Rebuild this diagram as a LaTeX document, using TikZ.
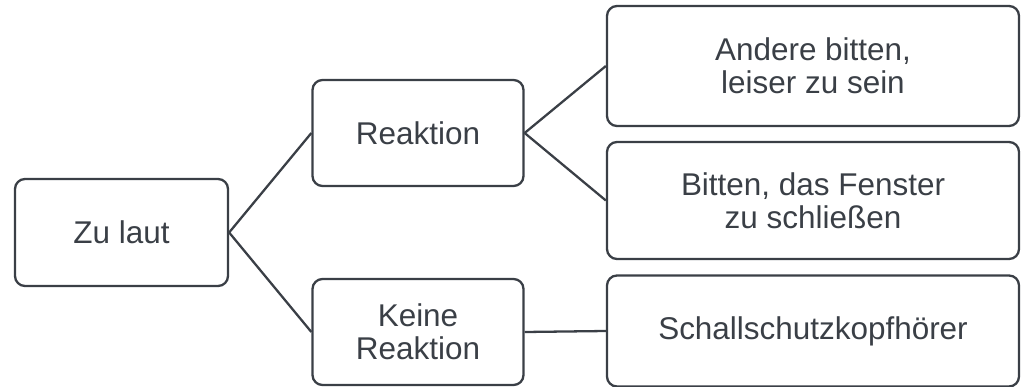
\documentclass[tikz,border=0pt]{standalone}
\usepackage{fontspec}
\setmainfont{Liberation Sans}
\definecolor{ink}{RGB}{58,63,70}

\begin{document}
\begin{tikzpicture}[line width=1.3pt,draw=ink,
  box/.style={draw=ink,rounded corners=0.2cm,align=center,text=ink,inner sep=0pt,
    font=\fontsize{17.9}{18.8}\selectfont},
  link/.style={draw=ink,line width=1.3pt}]
  \useasboundingbox (0,0) rectangle (20.5,-7.74);
  \node[box,minimum width=4.26cm,minimum height=2.14cm] (zu) at (2.43,-4.65) {Zu laut};
  \node[box,minimum width=4.22cm,minimum height=2.12cm] (reak) at (8.36,-2.66) {Reaktion};
  \node[box,minimum width=4.22cm,minimum height=2.12cm] (keine) at (8.36,-6.64) {Keine\\Reaktion};
  \node[box,minimum width=8.24cm,minimum height=2.4cm] (andere) at (16.26,-1.32) {Andere bitten,\\leiser zu sein};
  \node[box,minimum width=8.24cm,minimum height=2.34cm] (fenster) at (16.26,-4.01) {Bitten, das Fenster\\zu schließen};
  \node[box,minimum width=8.24cm,minimum height=2.22cm] (schall) at (16.26,-6.62) {Schallschutzkopfhörer};
  \draw[link] (zu.east) -- (reak.west);
  \draw[link] (zu.east) -- (keine.west);
  \draw[link] (reak.east) -- (andere.west);
  \draw[link] (reak.east) -- (fenster.west);
  \draw[link] (keine.east) -- (schall.west);
\end{tikzpicture}
\end{document}
